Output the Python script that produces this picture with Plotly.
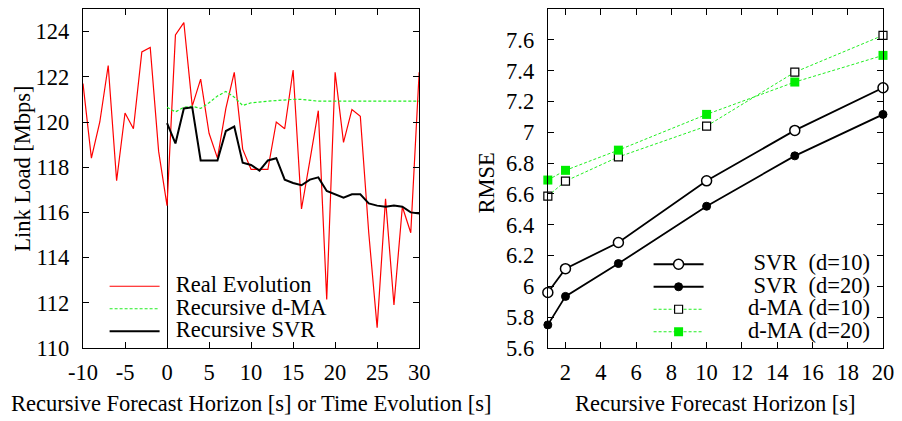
import plotly.graph_objects as go

# ---- Left panel data ----
t_real = list(range(-10, 31))
real_load = [121.7, 118.4, 120.0, 122.5, 117.4, 120.4, 119.7, 123.1, 123.3, 118.7,
             116.3, 123.85, 124.4, 120.7, 121.9, 119.5, 118.4, 120.6, 122.2, 118.8,
             117.9, 117.9, 117.9, 120.0, 119.7, 122.3, 116.15, 118.3, 120.5, 112.15,
             122.2, 119.1, 120.55, 120.25, 115.1, 110.9, 116.6, 111.9, 116.25, 115.1,
             122.2]
t_fc = list(range(0, 31))
dma_load = [120.65, 120.45, 120.65, 120.7, 120.6, 120.85, 121.15, 121.35, 121.1, 120.73,
            120.85, 120.9, 120.92, 120.95, 120.98, 121.0, 121.0, 120.95, 120.92, 120.92,
            120.92, 120.92, 120.92, 120.92, 120.92, 120.92, 120.92, 120.92, 120.92, 120.92,
            120.92]
svr_load = [119.95, 119.05, 120.6, 120.65, 118.3, 118.3, 118.3, 119.6, 119.8, 118.2,
            118.1, 117.85, 118.3, 118.4, 117.45, 117.3, 117.2, 117.45, 117.55, 116.95,
            116.8, 116.65, 116.8, 116.8, 116.4, 116.3, 116.25, 116.3, 116.25, 116.0,
            115.95]

# ---- Right panel data ----
horizon = [1, 2, 5, 10, 15, 20]
svr_d10 = [5.96, 6.115, 6.285, 6.685, 7.012, 7.289]
svr_d20 = [5.75, 5.935, 6.148, 6.52, 6.847, 7.116]
dma_d10 = [6.586, 6.683, 6.84, 7.04, 7.39, 7.629]
dma_d20 = [6.69, 6.753, 6.884, 7.116, 7.326, 7.499]

left_xticks = [-10, -5, 0, 5, 10, 15, 20, 25, 30]
left_xticktext = ["-10", "-5", "0", "5", "10", "15", "20", "25", "30"]
left_yticks = [110, 112, 114, 116, 118, 120, 122, 124]
right_xticks = [2, 4, 6, 8, 10, 12, 14, 16, 18, 20]
right_yticks = [5.6, 5.8, 6.0, 6.2, 6.4, 6.6, 6.8, 7.0, 7.2, 7.4, 7.6, 7.8]
right_yticktext = ["5.6", "5.8", "6", "6.2", "6.4", "6.6", "6.8", "7", "7.2", "7.4", "7.6", "7.8"]

FONT = "Liberation Serif"
FS = 22.5
GREEN = "#22ee22"
NB = "\u00a0"


def lg(label):
    return '<span style="font-size:%spx">' % FS + label + "</span>"


fig = go.Figure()

fig.add_trace(go.Scatter(x=t_real, y=real_load, mode="lines",
                         name=lg(NB * 2 + "Real Evolution"),
                         line=dict(color="#ff0000", width=1.2), xaxis="x", yaxis="y",
                         legend="legend"))
fig.add_trace(go.Scatter(x=t_fc, y=dma_load, mode="lines",
                         name=lg(NB * 2 + "Recursive d-MA"),
                         line=dict(color=GREEN, width=1.2, dash="3px,2px"), xaxis="x", yaxis="y",
                         legend="legend"))
fig.add_trace(go.Scatter(x=t_fc, y=svr_load, mode="lines",
                         name=lg(NB * 2 + "Recursive SVR"),
                         line=dict(color="#000000", width=2), xaxis="x", yaxis="y",
                         legend="legend"))

fig.add_trace(go.Scatter(x=horizon, y=svr_d10, mode="lines+markers",
                         name=lg(NB * 8 + "SVR" + NB * 2 + "(d=10)"),
                         line=dict(color="black", width=1.8), cliponaxis=False,
                         marker=dict(symbol="circle", size=10, color="white",
                                     line=dict(color="black", width=1.5)),
                         xaxis="x2", yaxis="y2", legend="legend2"))
fig.add_trace(go.Scatter(x=horizon, y=svr_d20, mode="lines+markers",
                         name=lg(NB * 8 + "SVR" + NB * 2 + "(d=20)"),
                         line=dict(color="black", width=1.8), cliponaxis=False,
                         marker=dict(symbol="circle", size=8, color="black",
                                     line=dict(color="black", width=1)),
                         xaxis="x2", yaxis="y2", legend="legend2"))
fig.add_trace(go.Scatter(x=horizon, y=dma_d10, mode="lines+markers",
                         name=lg(NB * 7 + "d-MA" + NB + "(d=10)"),
                         line=dict(color=GREEN, width=1, dash="3px,2px"), cliponaxis=False,
                         marker=dict(symbol="square", size=8, color="white",
                                     line=dict(color="black", width=1.2)),
                         xaxis="x2", yaxis="y2", legend="legend2"))
fig.add_trace(go.Scatter(x=horizon, y=dma_d20, mode="lines+markers",
                         name=lg(NB * 7 + "d-MA" + NB + "(d=20)"),
                         line=dict(color=GREEN, width=1, dash="3px,2px"), cliponaxis=False,
                         marker=dict(symbol="square", size=9, color="#00ee00",
                                     line=dict(color="#00ee00", width=0)),
                         xaxis="x2", yaxis="y2", legend="legend2"))

axis_common = dict(showline=True, linecolor="black", linewidth=1.4, mirror="ticks",
                   ticks="inside", ticklen=6, tickwidth=1, tickcolor="black",
                   showgrid=False, tickfont=dict(family=FONT, size=FS, color="black"))

W, H = 902, 421
ml, mr, mt, mb = 83, 17, 8, 73
pw = W - ml - mr
ph = H - mt - mb

fig.update_layout(
    width=W, height=H,
    margin=dict(l=ml, r=mr, t=mt, b=mb),
    paper_bgcolor="white", plot_bgcolor="white",
    font=dict(family=FONT, size=FS, color="black"),
    xaxis=dict(domain=[0, (420 - ml) / pw], range=[-10, 30], tickvals=left_xticks,
               ticktext=left_xticktext, ticklabelstandoff=4,
               zeroline=True, zerolinecolor="black", zerolinewidth=1,
               anchor="y", **axis_common),
    yaxis=dict(domain=[0, 1], range=[110, 125], tickvals=left_yticks, zeroline=False,
               ticklabelstandoff=8, anchor="x", **axis_common),
    xaxis2=dict(domain=[(549 - ml) / pw, 1], range=[1, 20], tickvals=right_xticks,
                ticklabelstandoff=4, zeroline=False, anchor="y2", **axis_common),
    yaxis2=dict(domain=[0, 1], range=[5.6, 7.8], tickvals=right_yticks,
                ticktext=right_yticktext, ticklabelstandoff=8, zeroline=False,
                anchor="x2", **axis_common),
    legend=dict(x=0.027, y=0.0, xanchor="left", yanchor="bottom",
                bgcolor="rgba(0,0,0,0)", font=dict(family=FONT, size=15),
                itemwidth=50, tracegroupgap=0),
    legend2=dict(x=(650 - ml) / pw, y=0.0, xanchor="left", yanchor="bottom",
                 bgcolor="rgba(0,0,0,0)", font=dict(family=FONT, size=15),
                 itemwidth=50, tracegroupgap=0),
    annotations=[
        dict(text="Link Load [Mbps]", xref="paper", yref="paper",
             x=(22 - ml) / pw, y=(348 - 168) / ph, textangle=-90,
             xanchor="center", yanchor="middle",
             showarrow=False, font=dict(family=FONT, size=FS)),
        dict(text="Recursive Forecast Horizon [s] or Time Evolution [s]", xref="paper",
             yref="paper", x=(252 - ml) / pw, y=(348 - 404) / ph, showarrow=False,
             xanchor="center", yanchor="middle",
             font=dict(family=FONT, size=FS)),
        dict(text="RMSE", xref="paper", yref="paper",
             x=(487 - ml) / pw, y=(348 - 182) / ph, textangle=-90,
             xanchor="center", yanchor="middle",
             showarrow=False, font=dict(family=FONT, size=FS)),
        dict(text="Recursive Forecast Horizon [s]", xref="paper",
             yref="paper", x=(717 - ml) / pw, y=(348 - 404) / ph, showarrow=False,
             xanchor="center", yanchor="middle",
             font=dict(family=FONT, size=FS)),
    ],
)

fig.write_html("out.html")
